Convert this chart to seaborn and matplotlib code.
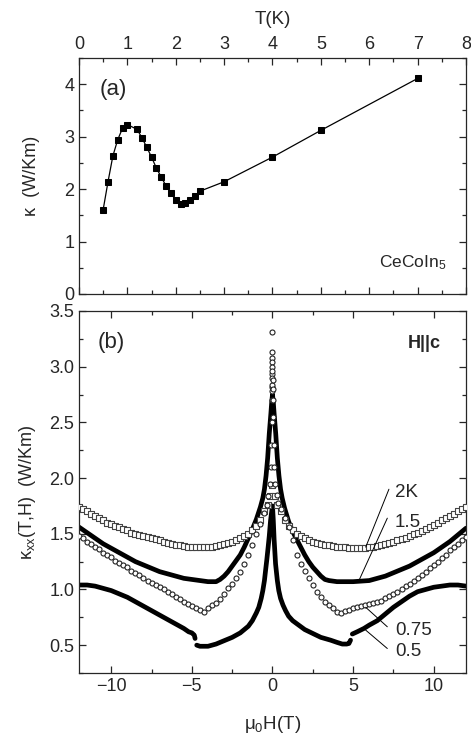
import numpy as np
import seaborn as sns
import matplotlib.pyplot as plt
from matplotlib.ticker import MultipleLocator

# (a) kappa vs T at zero field
temp_k = [0.5, 0.6, 0.7, 0.8, 0.9, 1.0, 1.2, 1.3, 1.4, 1.5, 1.6, 1.7, 1.8, 1.9,
          2.0, 2.1, 2.2, 2.3, 2.4, 2.5, 3.0, 4.0, 5.0, 7.0]
kappa_t = [1.61, 2.14, 2.63, 2.94, 3.16, 3.23, 3.14, 2.98, 2.80, 2.61, 2.40, 2.23,
           2.06, 1.92, 1.79, 1.71, 1.73, 1.79, 1.86, 1.96, 2.14, 2.61, 3.12, 4.11]

# (b) kappa_xx vs field
h_2k = [-12.0, -11.75, -11.5, -11.25, -11.0, -10.75, -10.5, -10.25, -10.0, -9.75,
        -9.5, -9.25, -9.0, -8.75, -8.5, -8.25, -8.0, -7.75, -7.5, -7.25, -7.0,
        -6.75, -6.5, -6.25, -6.0, -5.75, -5.5, -5.25, -5.0, -4.75, -4.5, -4.25,
        -4.0, -3.75, -3.5, -3.25, -3.0, -2.75, -2.5, -2.25, -2.0, -1.75, -1.5,
        -1.25, -1.0, -0.75, -0.5, -0.3, -0.15, 0.0, 0.15, 0.3,
        0.5, 0.75, 1.0, 1.25, 1.5, 1.75, 2.0, 2.25, 2.5, 2.75, 3.0, 3.25, 3.5,
        3.75, 4.0, 4.25, 4.5, 4.75, 5.0, 5.25, 5.5, 5.75, 6.0, 6.25, 6.5, 6.75,
        7.0, 7.25, 7.5, 7.75, 8.0, 8.25, 8.5, 8.75, 9.0, 9.25, 9.5, 9.75, 10.0,
        10.25, 10.5, 10.75, 11.0, 11.25, 11.5, 11.75, 12.0]
k_2k = [1.74, 1.72, 1.70, 1.68, 1.66, 1.64, 1.62, 1.60, 1.59, 1.57,
        1.56, 1.54, 1.53, 1.51, 1.50, 1.49, 1.48, 1.47, 1.46, 1.45, 1.44,
        1.43, 1.42, 1.41, 1.40, 1.395, 1.39, 1.385, 1.38, 1.38, 1.38, 1.38,
        1.38, 1.385, 1.39, 1.40, 1.41, 1.42, 1.43, 1.445, 1.46, 1.48, 1.50,
        1.53, 1.57, 1.62, 1.70, 1.76, 1.84, 1.94, 1.84, 1.76,
        1.70, 1.62, 1.57, 1.53, 1.50, 1.48, 1.46, 1.445, 1.43, 1.42, 1.41, 1.40, 1.395,
        1.39, 1.385, 1.38, 1.38, 1.375, 1.375, 1.375, 1.375, 1.375, 1.38, 1.385, 1.39, 1.40,
        1.41, 1.42, 1.43, 1.44, 1.45, 1.465, 1.48, 1.495, 1.51, 1.525, 1.54, 1.56, 1.58,
        1.60, 1.62, 1.64, 1.66, 1.68, 1.70, 1.72, 1.74]

h_15k = [-12.0, -11.5, -11.0, -10.5, -10.0, -9.5, -9.0, -8.5, -8.0, -7.5, -7.0,
         -6.5, -6.0, -5.5, -5.0, -4.5, -4.0, -3.5, -3.25, -3.0, -2.75, -2.5,
         -2.25, -2.0, -1.75, -1.5, -1.25, -1.0, -0.75, -0.6, -0.5, -0.4, -0.3,
         -0.2, -0.1, -0.05, 0.0, 0.05, 0.1, 0.2, 0.3, 0.4, 0.5, 0.6, 0.75, 1.0,
         1.25, 1.5, 1.75, 2.0, 2.25, 2.5, 2.75, 3.0, 3.25, 3.5, 4.0, 4.5, 5.0,
         5.5, 6.0, 6.5, 7.0, 7.5, 8.0, 8.5, 9.0, 9.5, 10.0, 10.5, 11.0, 11.5, 12.0]
k_15k = [1.56, 1.51, 1.46, 1.41, 1.37, 1.33, 1.29, 1.25, 1.22, 1.19, 1.16,
         1.14, 1.12, 1.10, 1.09, 1.08, 1.07, 1.07, 1.09, 1.12, 1.16, 1.21,
         1.26, 1.31, 1.38, 1.46, 1.54, 1.63, 1.74, 1.82, 1.90, 2.02, 2.18,
         2.40, 2.58, 2.68, 2.75, 2.68, 2.58, 2.40, 2.18, 2.02, 1.90, 1.82, 1.73, 1.61,
         1.52, 1.45, 1.38, 1.31, 1.25, 1.20, 1.16, 1.12, 1.09, 1.08, 1.07, 1.07, 1.07,
         1.075, 1.08, 1.10, 1.12, 1.15, 1.18, 1.21, 1.25, 1.29, 1.33, 1.38, 1.43, 1.49, 1.55]

h_075k = [-12.0, -11.75, -11.5, -11.25, -11.0, -10.75, -10.5, -10.25, -10.0, -9.75,
          -9.5, -9.25, -9.0, -8.75, -8.5, -8.25, -8.0, -7.75, -7.5, -7.25, -7.0,
          -6.75, -6.5, -6.25, -6.0, -5.75, -5.5, -5.25, -5.0, -4.75, -4.5, -4.25,
          -4.0, -3.75, -3.5, -3.25, -3.0, -2.75, -2.5, -2.25, -2.0, -1.75, -1.5,
          -1.25, -1.0, -0.75, -0.5, -0.35, -0.25, -0.18, -0.12, -0.08, -0.05,
          -0.03, -0.02, -0.01, 0.0, 0.0, 0.0, 0.0, 0.0, 0.0, 0.0, 0.0, 0.0, 0.01,
          0.02, 0.03, 0.05, 0.08, 0.12, 0.18, 0.25, 0.35,
          0.5, 0.75, 1.0, 1.25, 1.5, 1.75, 2.0, 2.25, 2.5, 2.75, 3.0, 3.25, 3.5,
          3.75, 4.0, 4.25, 4.5, 4.75, 5.0, 5.25, 5.5, 5.75, 6.0, 6.25, 6.5, 6.75,
          7.0, 7.25, 7.5, 7.75, 8.0, 8.25, 8.5, 8.75, 9.0, 9.25, 9.5, 9.75, 10.0,
          10.25, 10.5, 10.75, 11.0, 11.25, 11.5, 11.75, 12.0]
k_075k = [1.48, 1.46, 1.43, 1.41, 1.38, 1.36, 1.33, 1.31, 1.29, 1.26,
          1.24, 1.22, 1.20, 1.17, 1.15, 1.13, 1.10, 1.08, 1.06, 1.04, 1.02,
          1.00, 0.98, 0.96, 0.93, 0.91, 0.89, 0.87, 0.85, 0.83, 0.82, 0.80,
          0.83, 0.86, 0.88, 0.91, 0.96, 1.01, 1.05, 1.10, 1.16, 1.23, 1.31,
          1.40, 1.50, 1.59, 1.69, 1.76, 1.84, 1.95, 2.10, 2.30, 2.50,
          2.70, 2.82, 2.93, 3.31, 3.13, 3.08, 3.04, 3.00, 2.96, 2.90, 2.84, 2.78, 2.88,
          2.80, 2.70, 2.55, 2.30, 2.10, 1.95, 1.85, 1.78,
          1.72, 1.64, 1.56, 1.44, 1.31, 1.23, 1.17, 1.10, 1.04, 0.98, 0.93, 0.89, 0.86,
          0.83, 0.80, 0.79, 0.81, 0.82, 0.83, 0.84, 0.85, 0.86, 0.87, 0.88, 0.89, 0.90,
          0.92, 0.94, 0.96, 0.98, 1.00, 1.03, 1.05, 1.08, 1.10, 1.13, 1.16, 1.19, 1.22,
          1.25, 1.28, 1.31, 1.35, 1.38, 1.41, 1.44, 1.47]

# 0.5 K curve comes in three pieces (jumps near +-4.8 T)
h_05k_a = [-12.0, -11.5, -11.0, -10.5, -10.0, -9.5, -9.0, -8.5, -8.0, -7.5, -7.0,
           -6.5, -6.0, -5.5, -5.2, -5.0, -4.85, -4.8]
k_05k_a = [1.04, 1.04, 1.03, 1.01, 0.99, 0.96, 0.93, 0.89, 0.85, 0.81, 0.77,
           0.73, 0.69, 0.65, 0.62, 0.61, 0.59, 0.56]
h_05k_b = [-4.7, -4.5, -4.0, -3.5, -3.0, -2.5, -2.0, -1.5, -1.25, -1.0, -0.85,
           -0.7, -0.6, -0.5, -0.43, -0.35, -0.27, -0.2, -0.12, -0.05, 0.0,
           0.05, 0.1, 0.19, 0.3, 0.39, 0.5, 0.65, 0.81, 1.0, 1.25, 1.53, 2.0,
           2.57, 3.0, 3.6, 4.0, 4.33, 4.6, 4.74, 4.84]
k_05k_b = [0.50, 0.49, 0.49, 0.51, 0.54, 0.57, 0.61, 0.67, 0.72, 0.79, 0.84,
           0.92, 0.99, 1.08, 1.17, 1.27, 1.38, 1.48, 1.62, 1.70, 1.75,
           1.62, 1.45, 1.23, 1.08, 0.99, 0.92, 0.86, 0.81, 0.76, 0.72, 0.69, 0.64,
           0.60, 0.57, 0.545, 0.525, 0.51, 0.51, 0.515, 0.545]
h_05k_c = [4.95, 5.25, 5.67, 6.0, 6.5, 7.0, 7.5, 8.0, 8.5, 9.0, 9.5, 10.0,
           10.5, 11.0, 11.5, 12.0]
k_05k_c = [0.60, 0.62, 0.65, 0.68, 0.72, 0.78, 0.84, 0.89, 0.94, 0.98, 1.00, 1.02,
           1.03, 1.04, 1.04, 1.03]

curve_labels = ["2K", "1.5", "0.75", "0.5"]

sns.set_style("ticks")
plt.rcParams['font.family'] = ['Liberation Sans', 'DejaVu Sans']
plt.rcParams['mathtext.fontset'] = 'custom'
plt.rcParams['mathtext.rm'] = 'Liberation Sans'
plt.rcParams['mathtext.it'] = 'Liberation Sans:italic'
plt.rcParams['font.size'] = 13

fig = plt.figure(figsize=(4.71, 7.34), dpi=100)
ax1 = fig.add_axes([0.1677, 0.5995, 0.8217, 0.3215])
ax2 = fig.add_axes([0.1677, 0.0831, 0.8217, 0.4932])

# --- panel (a)
sns.lineplot(x=temp_k, y=kappa_t, ax=ax1, color='black', lw=0.9, marker='s',
             markersize=4.3, markeredgecolor='black', estimator=None, sort=False)
ax1.set_xlim(0, 8)
ax1.set_ylim(0, 4.5)
ax1.xaxis.set_major_locator(MultipleLocator(1))
ax1.xaxis.set_minor_locator(MultipleLocator(0.5))
ax1.yaxis.set_major_locator(MultipleLocator(1))
ax1.yaxis.set_minor_locator(MultipleLocator(0.5))
ax1.tick_params(which='both', direction='in', top=True, bottom=True, left=True,
                right=True, labeltop=True, labelbottom=False, labelsize=13, width=0.9)
ax1.tick_params(which='major', length=5)
ax1.tick_params(which='minor', length=3)
ax1.xaxis.set_label_position('top')
ax1.set_xlabel('T(K)', fontsize=13.5, labelpad=9)
ax1.set_ylabel('\u03ba  (W/Km)', fontsize=13, labelpad=17)
ax1.text(0.054, 0.865, '(a)', transform=ax1.transAxes, fontsize=16, va='center')
ax1.text(0.95, 0.115, r'CeCoIn$_5$', transform=ax1.transAxes, fontsize=12.5, ha='right',
         va='baseline')

# --- panel (b)
sns.scatterplot(x=h_2k, y=k_2k, ax=ax2, marker='s', s=14, facecolor='white',
                edgecolor='#444444', linewidth=0.8, zorder=3)
sns.lineplot(x=h_15k, y=k_15k, ax=ax2, color='black', lw=3.4, estimator=None,
             sort=False, zorder=2)
sns.scatterplot(x=h_075k, y=k_075k, ax=ax2, marker='o', s=13, facecolor='white',
                edgecolor='#222222', linewidth=0.8, zorder=4)
for hh, kk in [(h_05k_a, k_05k_a), (h_05k_b, k_05k_b), (h_05k_c, k_05k_c)]:
    sns.lineplot(x=hh, y=kk, ax=ax2, color='black', lw=3.4, estimator=None,
                 sort=False, zorder=2, solid_capstyle='round')

ax2.set_xlim(-12, 12)
ax2.set_ylim(0.25, 3.5)
ax2.xaxis.set_major_locator(MultipleLocator(5))
ax2.xaxis.set_minor_locator(MultipleLocator(2.5))
ax2.yaxis.set_major_locator(MultipleLocator(0.5))
ax2.yaxis.set_minor_locator(MultipleLocator(0.25))
ax2.yaxis.set_major_formatter(plt.FormatStrFormatter('%.1f'))
ax2.tick_params(which='both', direction='in', top=True, bottom=True, left=True,
                right=True, labelsize=13, width=0.9)
ax2.tick_params(which='major', length=5)
ax2.tick_params(which='minor', length=3)
ax2.set_xlabel(r'$\mathrm{\mu_0}$H(T)', fontsize=13.5, labelpad=14)
ax2.set_ylabel(r'$\mathrm{\kappa_{xx}}$(T,H)  (W/Km)', fontsize=13, labelpad=8)
ax2.text(0.047, 0.912, '(b)', transform=ax2.transAxes, fontsize=16, va='center')
ax2.text(0.935, 0.909, 'H||c', transform=ax2.transAxes, fontsize=13,
         fontweight='bold', ha='right', va='center')

# leader lines to the curve labels
leaders = [((7.22, 1.90), (5.78, 1.38), (7.6, 1.87)),
           ((7.12, 1.64), (5.36, 1.08), (7.6, 1.60)),
           ((7.12, 0.665), (5.78, 0.84), (7.6, 0.63)),
           ((7.12, 0.47), (5.78, 0.635), (7.6, 0.44))]
for lab, (p0, p1, pt) in zip(curve_labels, leaders):
    ax2.plot([p0[0], p1[0]], [p0[1], p1[1]], color='black', lw=0.7, zorder=5)
    ax2.text(pt[0], pt[1], lab, fontsize=13.5, va='center', ha='left')

for ax in (ax1, ax2):
    for sp in ax.spines.values():
        sp.set_linewidth(0.9)

fig.savefig('out.png', dpi=100)
